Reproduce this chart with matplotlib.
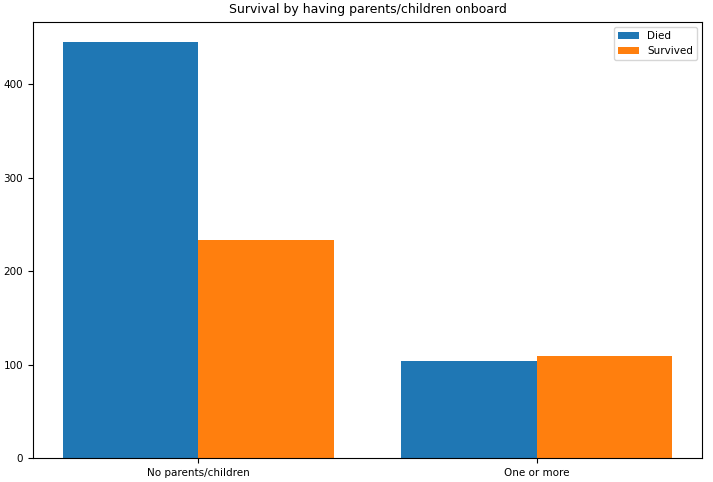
import matplotlib.pyplot as plt
import numpy as np

categories = ["No parents/children", "One or more"]
died = [445, 104]
survived = [233, 109]

fig, ax = plt.subplots(figsize=(7.13, 4.82), dpi=100)
x = np.arange(len(categories))
w = 0.4
ax.bar(x - w / 2, died, w, label="Died", color="#1f77b4")
ax.bar(x + w / 2, survived, w, label="Survived", color="#ff7f0e")
ax.set_xticks(x)
ax.set_xticklabels(categories, fontsize=7.5)
ax.tick_params(axis="y", labelsize=7.5)
ax.set_title("Survival by having parents/children onboard", fontsize=9)
ax.legend(fontsize=7.5)
fig.subplots_adjust(left=0.046, right=0.985, top=0.955, bottom=0.05)
fig.savefig("out.png")
